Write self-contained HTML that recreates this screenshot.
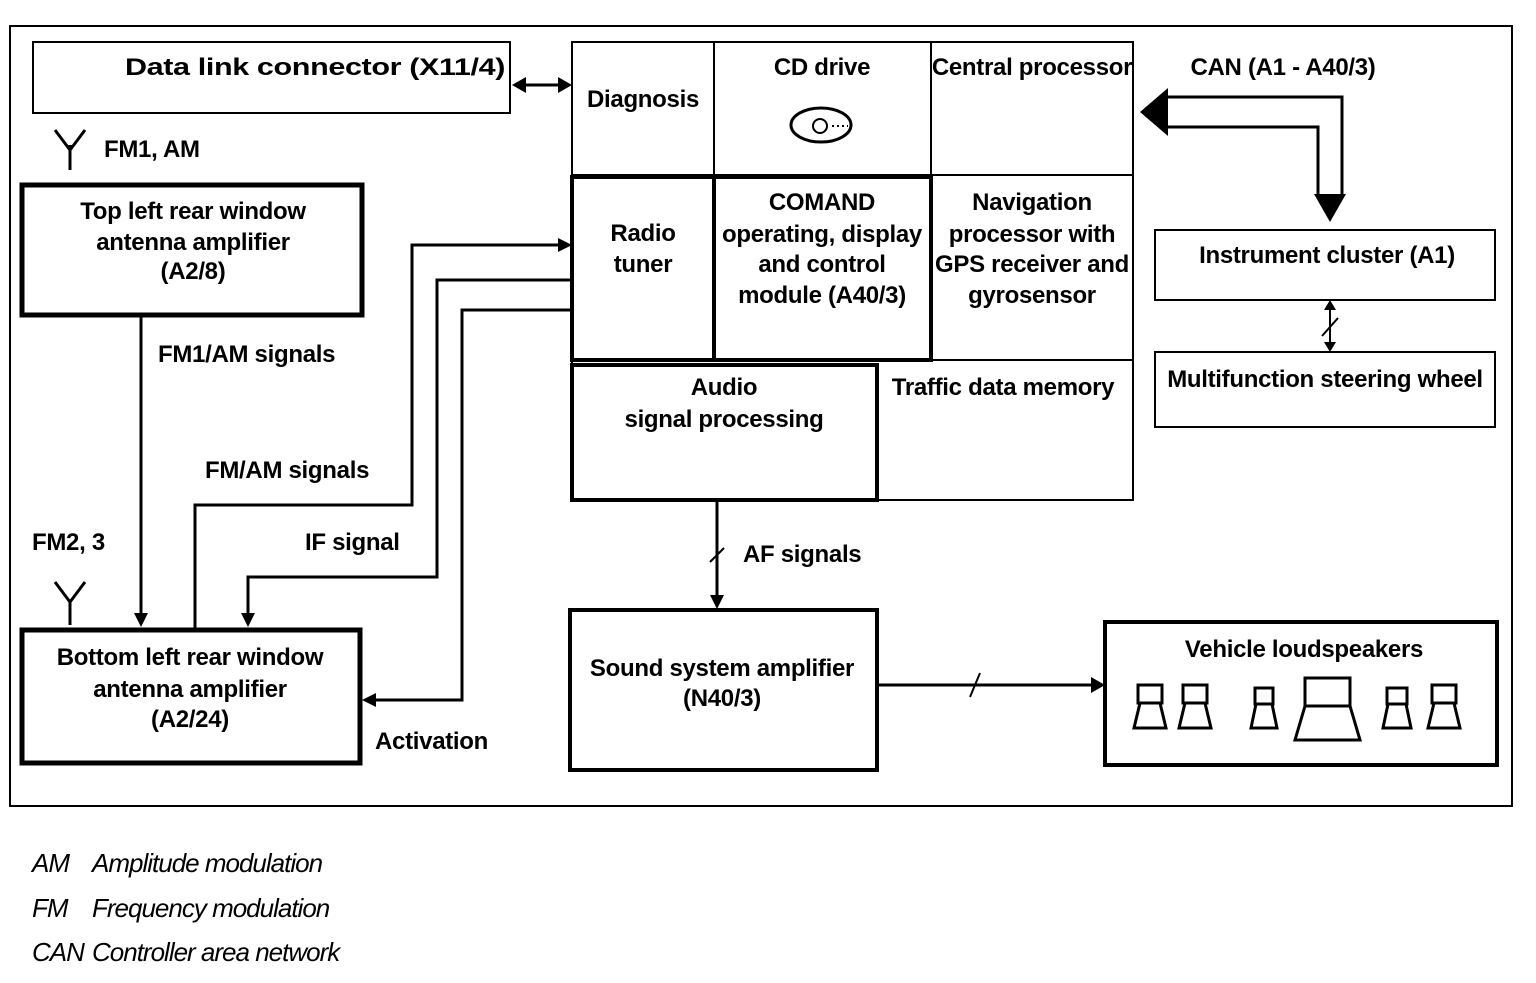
<!DOCTYPE html>
<html><head><meta charset="utf-8"><style>
body{margin:0;background:#fff}
svg text{font-family:"Liberation Sans",sans-serif;font-size:24px;font-weight:bold;letter-spacing:-0.3px;fill:#000}
.c{text-anchor:middle}
.i{font-style:italic;font-weight:normal;font-size:26px;letter-spacing:-1px}
</style></head><body>
<svg width="1536" height="978" viewBox="0 0 1536 978" xmlns="http://www.w3.org/2000/svg">
<g fill="none" stroke="#000">
<rect x="10" y="26" width="1502" height="780" stroke-width="2"/>
<rect x="33" y="42" width="477" height="71" stroke-width="2"/>
<rect x="572" y="42" width="561" height="458" stroke-width="2"/>
<line x1="714" y1="42" x2="714" y2="175" stroke-width="2"/>
<line x1="931" y1="42" x2="931" y2="360" stroke-width="2"/>
<line x1="572" y1="175" x2="1133" y2="175" stroke-width="2"/>
<rect x="572" y="177" width="142" height="183" stroke-width="4"/>
<rect x="714" y="177" width="217" height="183" stroke-width="4"/>
<line x1="931" y1="360" x2="1133" y2="360" stroke-width="2"/>
<rect x="572" y="365" width="305" height="135" stroke-width="4"/>
<rect x="1155" y="230" width="340" height="70" stroke-width="2"/>
<rect x="1155" y="352" width="340" height="75" stroke-width="2"/>
<rect x="22" y="185" width="340" height="130" stroke-width="5"/>
<rect x="22" y="630" width="338" height="133" stroke-width="5"/>
<rect x="570" y="610" width="307" height="160" stroke-width="4"/>
<rect x="1105" y="622" width="392" height="143" stroke-width="4"/>
<line x1="522" y1="85" x2="560" y2="85" stroke-width="3"/>
<path d="M1165,97 L1342,97 L1342,196 M1165,127 L1318,127 L1318,196" stroke-width="3"/>
<ellipse cx="821" cy="125" rx="30" ry="17" stroke-width="3"/>
<circle cx="820" cy="126" r="7" stroke-width="2"/>
<line x1="1330" y1="304" x2="1330" y2="348" stroke-width="2"/>
<line x1="1322" y1="336" x2="1338" y2="318" stroke-width="2"/>
<path d="M70,170 V145 M55,130 L70,150 L85,130" stroke-width="3"/>
<path d="M70,625 V600 M55,582 L70,602 L85,582" stroke-width="3"/>
<line x1="141" y1="315" x2="141" y2="615" stroke-width="3"/>
<path d="M195,630 V505 H412 V245 H560" stroke-width="3"/>
<path d="M570,280 H437 V577 H248 V615" stroke-width="3"/>
<path d="M570,310 H462 V700 H372" stroke-width="3"/>
<line x1="717" y1="500" x2="717" y2="597" stroke-width="3"/>
<line x1="710" y1="562" x2="724" y2="548" stroke-width="2"/>
<line x1="877" y1="685" x2="1093" y2="685" stroke-width="3"/>
<line x1="970" y1="697" x2="980" y2="673" stroke-width="2"/>
<g stroke-width="3">
<path d="M1138,685 h24 v18 h-24 z M1134,728 h32 l-6,-25 h-20 z"/>
<path d="M1183,685 h24 v18 h-24 z M1179,728 h32 l-6,-25 h-20 z"/>
<path d="M1255,688 h18 v16 h-18 z M1251,728 h26 l-5,-24 h-16 z"/>
<path d="M1305,678 h45 v28 h-45 z M1295,740 h65 l-10,-34 h-45 z"/>
<path d="M1387,688 h20 v16 h-20 z M1383,728 h28 l-5,-24 h-18 z"/>
<path d="M1432,685 h24 v18 h-24 z M1428,728 h32 l-6,-25 h-20 z"/>
</g>
</g>
<path d="M512,85 l14,-8 v16 z M572,85 l-14,-8 v16 z" fill="#000"/>
<path d="M1140,112 L1168,88 L1168,136 z" fill="#000"/>
<path d="M1330,222 L1314,194 L1346,194 z" fill="#000"/>
<path d="M1330,300 l-6,10 h12 z M1330,352 l-6,-10 h12 z" fill="#000"/>
<path d="M141,627 l-7,-14 h14 z" fill="#000"/>
<path d="M572,245 l-14,-7 v14 z" fill="#000"/>
<path d="M248,627 l-7,-14 h14 z" fill="#000"/>
<path d="M362,700 l14,-7 v14 z" fill="#000"/>
<path d="M717,609 l-7,-14 h14 z" fill="#000"/>
<path d="M1105,685 l-14,-8 v16 z" fill="#000"/>
<path d="M832,126 h16" stroke="#000" stroke-width="2" stroke-dasharray="2 3"/>
<text x="125" y="75" textLength="380" lengthAdjust="spacingAndGlyphs">Data link connector (X11/4)</text>
<text x="643" y="107" class="c">Diagnosis</text>
<text x="822" y="75" class="c">CD drive</text>
<text x="1032" y="75" class="c">Central processor</text>
<text x="1283" y="75" class="c">CAN (A1 - A40/3)</text>
<text x="643" y="241" class="c">Radio</text>
<text x="643" y="272" class="c">tuner</text>
<text x="822" y="210" class="c">COMAND</text>
<text x="822" y="242" class="c">operating, display</text>
<text x="822" y="272" class="c">and control</text>
<text x="822" y="303" class="c">module (A40/3)</text>
<text x="1032" y="210" class="c">Navigation</text>
<text x="1032" y="242" class="c">processor with</text>
<text x="1032" y="272" class="c">GPS receiver and</text>
<text x="1032" y="303" class="c">gyrosensor</text>
<text x="724" y="395" class="c">Audio</text>
<text x="724" y="427" class="c">signal processing</text>
<text x="1003" y="395" class="c">Traffic data memory</text>
<text x="1327" y="263" class="c">Instrument cluster (A1)</text>
<text x="1325" y="387" class="c">Multifunction steering wheel</text>
<text x="104" y="157">FM1, AM</text>
<text x="193" y="219" class="c">Top left rear window</text>
<text x="193" y="250" class="c">antenna amplifier</text>
<text x="193" y="279" class="c">(A2/8)</text>
<text x="158" y="362">FM1/AM signals</text>
<text x="205" y="478">FM/AM signals</text>
<text x="32" y="550">FM2, 3</text>
<text x="305" y="550">IF signal</text>
<text x="190" y="665" class="c">Bottom  left rear window</text>
<text x="190" y="697" class="c">antenna amplifier</text>
<text x="190" y="727" class="c">(A2/24)</text>
<text x="375" y="749">Activation</text>
<text x="743" y="562">AF signals</text>
<text x="722" y="676" class="c">Sound system amplifier</text>
<text x="722" y="706" class="c">(N40/3)</text>
<text x="1304" y="657" class="c">Vehicle loudspeakers</text>
<text x="32" y="872" class="i">AM</text><text x="92" y="872" class="i">Amplitude modulation</text>
<text x="32" y="917" class="i">FM</text><text x="92" y="917" class="i">Frequency modulation</text>
<text x="32" y="961" class="i">CAN</text><text x="92" y="961" class="i">Controller area network</text>
</svg>
</body></html>
